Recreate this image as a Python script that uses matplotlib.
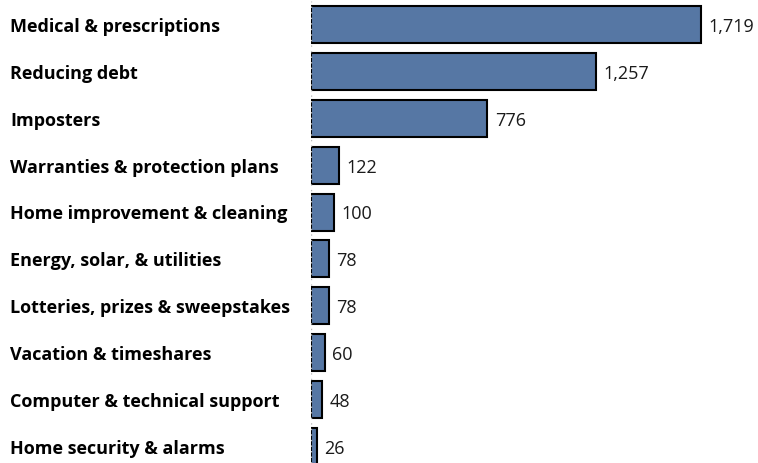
import matplotlib
matplotlib.use("Agg")
import matplotlib.pyplot as plt
from matplotlib.transforms import blended_transform_factory

categories = [
    "Medical & prescriptions",
    "Reducing debt",
    "Imposters",
    "Warranties & protection plans",
    "Home improvement & cleaning",
    "Energy, solar, & utilities",
    "Lotteries, prizes & sweepstakes",
    "Vacation & timeshares",
    "Computer & technical support",
    "Home security & alarms",
]
values = [1719, 1257, 776, 122, 100, 78, 78, 60, 48, 26]

plt.rcParams['font.family'] = ['Open Sans', 'DejaVu Sans']

fig = plt.figure(figsize=(7.58, 4.64), dpi=100)
ax = fig.add_axes([311/758, 0, 1 - 311/758, 462/464])

ypos = list(range(len(values)))
ax.barh(ypos, values, height=0.79, color="#5677A4", edgecolor="black", linewidth=1.5)
ax.set_ylim(9.35, -0.5)
ax.set_xlim(0, (758 - 311) / (390 / 1719))
ax.axvline(0, color="#BBBBBB", linestyle=(0, (1, 3)), linewidth=1)

for y, v in zip(ypos, values):
    ax.annotate(f"{v:,}", xy=(v, y), xytext=(5.5, -1), textcoords="offset points",
                va="center", ha="left", fontsize=13, color="#1a1a1a")

tr = blended_transform_factory(fig.transFigure, ax.transData)
for y, c in zip(ypos, categories):
    fig.text(10/758, y + 0.03, c, transform=tr, ha="left", va="center",
             fontsize=13, fontweight="bold", color="black")

ax.axis("off")
fig.savefig("out.png", dpi=100)
